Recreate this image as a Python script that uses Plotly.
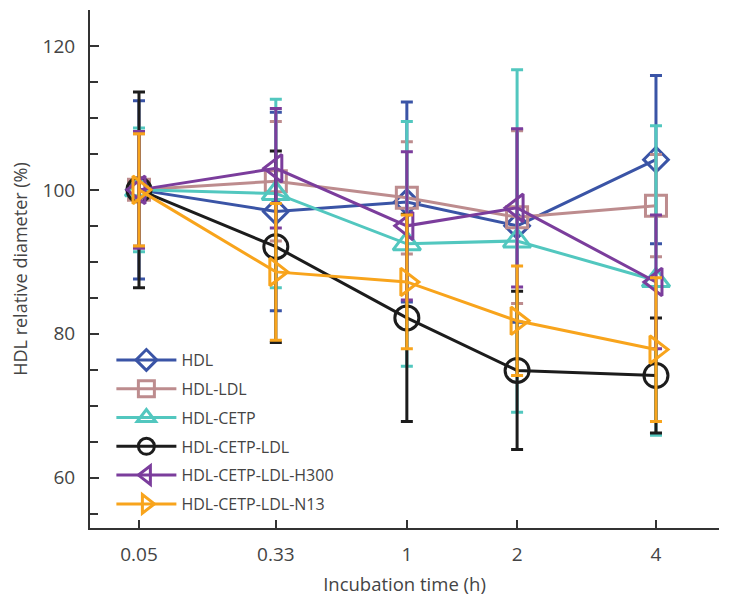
import plotly.graph_objects as go

times = [0.05, 0.33, 1, 2, 4]
time_labels = ["0.05", "0.33", "1", "2", "4"]

series_names = ["HDL", "HDL-LDL", "HDL-CETP", "HDL-CETP-LDL",
                "HDL-CETP-LDL-H300", "HDL-CETP-LDL-N13"]

hdl = [100, 97.0, 98.3, 95.0, 104.2]
hdl_err = [12.4, 13.8, 13.9, 13.4, 11.7]

hdl_ldl = [100, 101.2, 98.9, 96.2, 97.8]
hdl_ldl_err = [7.8, 8.3, 7.8, 12.0, 7.1]

hdl_cetp = [100, 99.5, 92.5, 92.9, 87.4]
hdl_cetp_err = [8.6, 13.1, 17.0, 23.8, 21.5]

hdl_cetp_ldl = [100, 92.1, 82.2, 74.9, 74.2]
hdl_cetp_ldl_err = [13.6, 13.3, 14.4, 11.0, 8.0]

h300 = [100, 103.0, 95.0, 97.5, 87.2]
h300_err = [8.1, 8.3, 10.3, 11.0, 9.3]

n13 = [100, 88.6, 87.2, 81.8, 77.8]
n13_err = [7.8, 9.5, 9.3, 7.6, 10.0]

values = [hdl, hdl_ldl, hdl_cetp, hdl_cetp_ldl, h300, n13]
errors = [hdl_err, hdl_ldl_err, hdl_cetp_err, hdl_cetp_ldl_err, h300_err, n13_err]

colors = ["#3a54a6", "#bd8c8e", "#52c7bf", "#1c1c1c", "#7b3d9c", "#f8a41c"]
symbols = ["diamond-open", "square-open", "triangle-up-open", "circle-open",
           "triangle-left-open", "triangle-right-open"]
sizes = [19, 21, 24, 24, 24, 24]

# x axis is drawn on a cube-root time scale
xs = [t ** (1 / 3) for t in times]

fig = go.Figure()
for name, v, e, c, s, sz in zip(series_names, values, errors, colors, symbols, sizes):
    fig.add_trace(go.Scatter(
        x=xs, y=v, name=name, mode="lines+markers",
        line=dict(color=c, width=3),
        marker=dict(symbol=s, size=sz, color=c, line=dict(color=c, width=3)),
        error_y=dict(type="data", array=e, visible=True, color=c, thickness=3, width=6),
        legendgroup=name,
    ))

font_family = "Open Sans, Lato, sans-serif"
text_color = "#444444"

fig.update_layout(
    width=729, height=600,
    margin=dict(l=82, r=18, t=2, b=80, autoexpand=False),
    paper_bgcolor="white", plot_bgcolor="white",
    font=dict(family=font_family, color=text_color, size=16),
    showlegend=True,
    legend=dict(
        x=0.034, y=0.0135, xanchor="left", yanchor="bottom",
        bgcolor="rgba(0,0,0,0)", font=dict(size=16, color=text_color),
        itemwidth=60, tracegroupgap=5, traceorder="grouped",
    ),
    xaxis=dict(
        range=[0.2529, 1.7360],
        tickvals=xs, ticktext=time_labels,
        ticks="inside", ticklen=8, tickwidth=2, tickcolor="#333333",
        showline=True, linecolor="#333333", linewidth=2,
        showgrid=False, zeroline=False, automargin=False,
        tickfont=dict(size=19, color=text_color),
        ticklabelstandoff=8,
        title=dict(text="Incubation time (h)", font=dict(size=18.5, color=text_color), standoff=12),
    ),
    yaxis=dict(
        range=[53.0, 125.0],
        tick0=0, dtick=20,
        ticks="inside", ticklen=9, tickwidth=2, tickcolor="#333333",
        minor=dict(dtick=5, tick0=0, ticks="inside", ticklen=8, tickwidth=2, tickcolor="#333333"),
        showline=True, linecolor="#333333", linewidth=2,
        showgrid=False, zeroline=False, automargin=False,
        tickfont=dict(size=19, color=text_color),
        ticklabelstandoff=9,
        title=dict(text="HDL relative diameter (%)", font=dict(size=18, color=text_color), standoff=13),
    ),
)

fig.write_html("out.html")
